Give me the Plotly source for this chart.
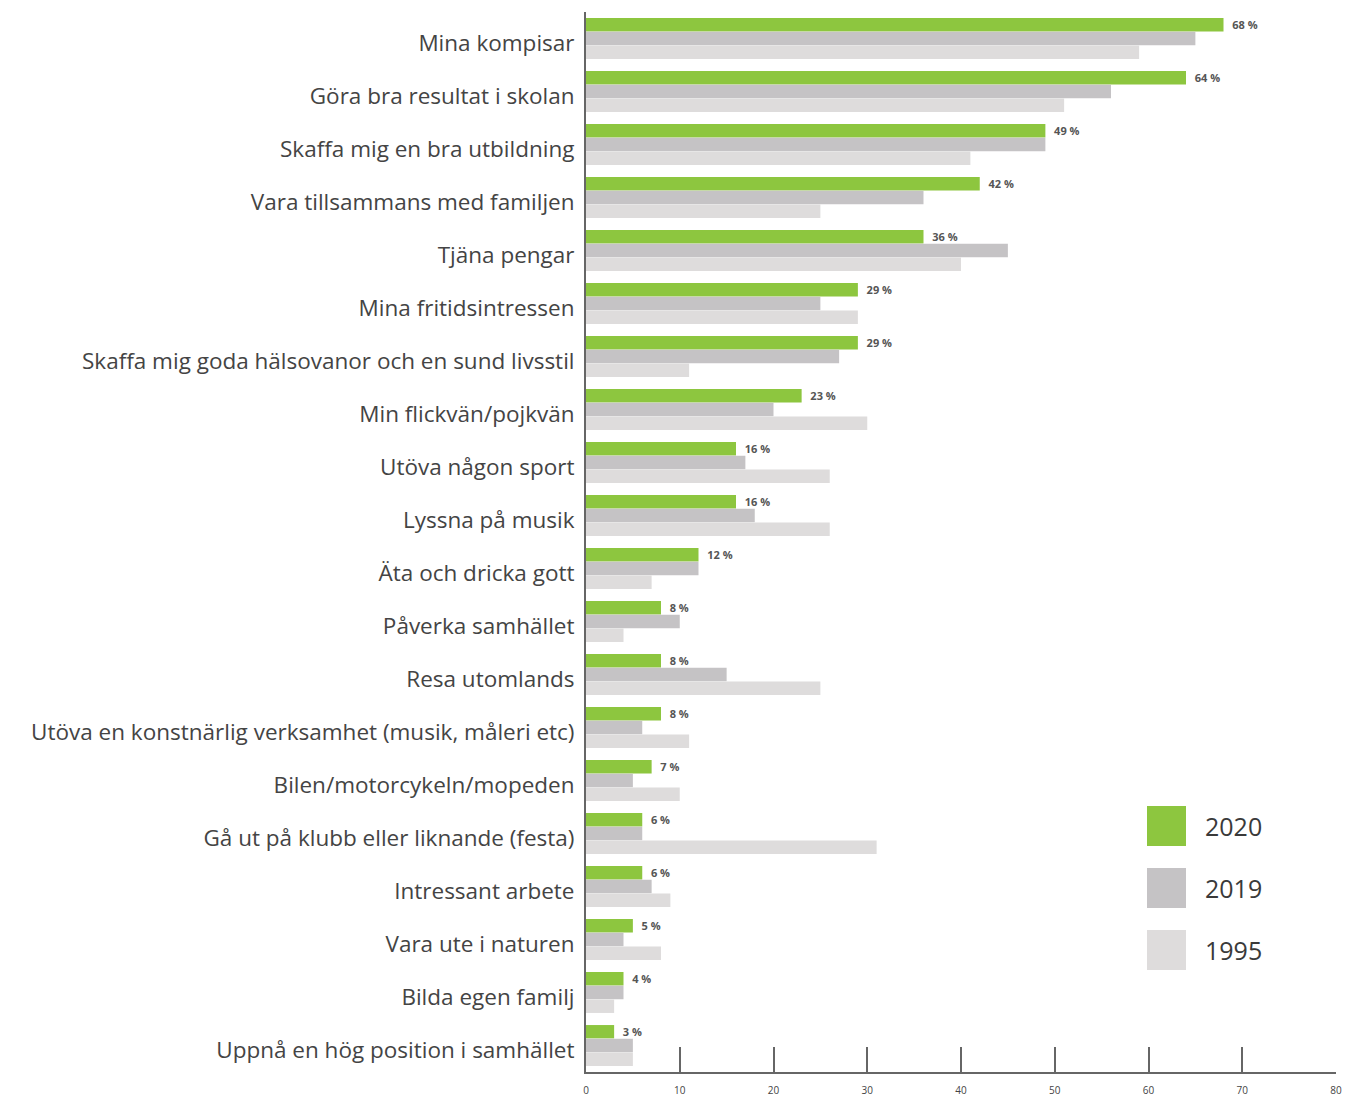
import plotly.graph_objects as go

categories = [
    "Mina kompisar",
    "Göra bra resultat i skolan",
    "Skaffa mig en bra utbildning",
    "Vara tillsammans med familjen",
    "Tjäna pengar",
    "Mina fritidsintressen",
    "Skaffa mig goda hälsovanor och en sund livsstil",
    "Min flickvän/pojkvän",
    "Utöva någon sport",
    "Lyssna på musik",
    "Äta och dricka gott",
    "Påverka samhället",
    "Resa utomlands",
    "Utöva en konstnärlig verksamhet (musik, måleri etc)",
    "Bilen/motorcykeln/mopeden",
    "Gå ut på klubb eller liknande (festa)",
    "Intressant arbete",
    "Vara ute i naturen",
    "Bilda egen familj",
    "Uppnå en hög position i samhället",
]
values_2020 = [68, 64, 49, 42, 36, 29, 29, 23, 16, 16, 12, 8, 8, 8, 7, 6, 6, 5, 4, 3]
values_2019 = [65, 56, 49, 36, 45, 25, 27, 20, 17, 18, 12, 10, 15, 6, 5, 6, 7, 4, 4, 5]
values_1995 = [59, 51, 41, 25, 40, 29, 11, 30, 26, 26, 7, 4, 25, 11, 10, 31, 9, 8, 3, 5]
series_names = ["2020", "2019", "1995"]
x_ticks = [0, 10, 20, 30, 40, 50, 60, 70, 80]

colors = ["#8dc63f", "#c5c3c5", "#dedcdc"]

W, H = 1370, 1102
ML, MR, MT, MB = 578, 42, 4, 38
PW, PH = W - ML - MR, H - MT - MB
OFF = 8  # page body margin

fig = go.Figure()
for name, vals, col in zip(series_names, [values_2020, values_2019, values_1995], colors):
    fig.add_trace(go.Bar(
        y=categories, x=vals, name=name, orientation="h",
        marker=dict(color=col, line=dict(width=0)),
        text=[f"  {v} %" for v in vals] if name == "2020" else None,
        textposition="outside" if name == "2020" else "none",
        textfont=dict(family="Open Sans", size=11, color="#555555", weight="bold"),
        cliponaxis=False,
        showlegend=False,
        hoverinfo="x+y",
    ))

fig.update_layout(
    width=W, height=H,
    barmode="group", bargap=0.22, bargroupgap=0.03,
    plot_bgcolor="white", paper_bgcolor="white",
    margin=dict(l=ML, r=MR, t=MT, b=MB),
    font=dict(family="Open Sans", color="#3a3a3a"),
    uniformtext=dict(minsize=10, mode="show"),
)
fig.update_yaxes(
    autorange="reversed", showline=True, linecolor="#666666", linewidth=2,
    ticks="", showgrid=False, tickfont=dict(size=22.5, color="#444444"),
    ticklabelstandoff=5, ticklabelshift=-5,
)
fig.update_xaxes(
    range=[0, 80], tickvals=x_ticks, showline=True, linecolor="#666666", linewidth=2,
    ticks="inside", ticklen=25, tickwidth=1.5, tickcolor="#666666",
    showgrid=False, zeroline=False, tickfont=dict(size=10, color="#444444"),
    ticklabelstandoff=8,
)

# legend drawn as swatches + labels (screen coords converted to paper fractions)
def px(x):
    return (x - OFF - ML) / PW

def py(y):
    return (H - MB - (y - OFF)) / PH

leg_y = [826, 888, 950]
for name, col, yc in zip(series_names, colors, leg_y):
    fig.add_shape(type="rect", xref="paper", yref="paper",
                  x0=px(1147), x1=px(1186), y0=py(yc + 20), y1=py(yc - 20),
                  fillcolor=col, line=dict(width=0))
    fig.add_annotation(xref="paper", yref="paper",
                       x=px(1203), y=py(yc), text=name, showarrow=False,
                       xanchor="left", yanchor="middle",
                       font=dict(size=25, color="#3a3a3a", family="Open Sans"))

fig.write_html("out.html")
